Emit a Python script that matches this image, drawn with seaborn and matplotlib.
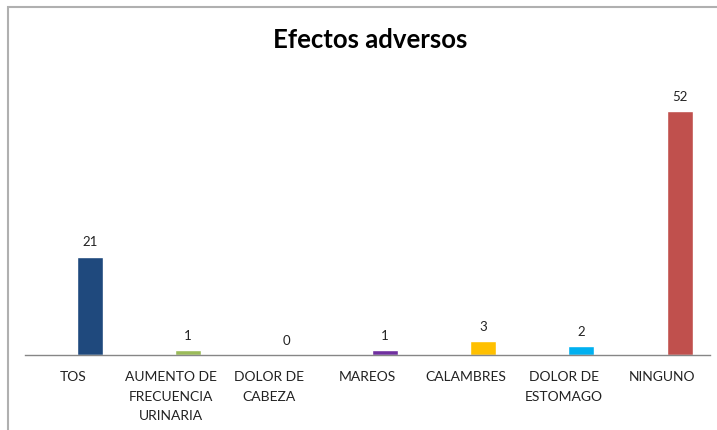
import matplotlib
matplotlib.use("Agg")
import matplotlib.pyplot as plt
import seaborn as sns
import pandas as pd
from matplotlib.patches import Rectangle

categories = ["TOS", "AUMENTO DE\nFRECUENCIA\nURINARIA", "DOLOR DE\nCABEZA", "MAREOS",
              "CALAMBRES", "DOLOR DE\nESTOMAGO", "NINGUNO"]
values = [21, 1, 0, 1, 3, 2, 52]
colors = ["#1F497D", "#9BBB59", "#4BACC6", "#7030A0", "#FFC000", "#00B0F0", "#C0504D"]
title = "Efectos adversos"

sns.set_theme(style="white")
plt.rcParams["font.family"] = ["Lato", "DejaVu Sans"]

df = pd.DataFrame({"cat": categories, "val": values})

fig = plt.figure(figsize=(7.17, 4.31), dpi=100)
ax = fig.add_axes([25 / 717, 75 / 431, 685 / 717, (356 - 74.6) / 431])

sns.barplot(data=df, x="cat", y="val", hue="cat", palette=colors, legend=False,
            width=0.265, ax=ax, saturation=1)

ax.set_ylim(0, 60)
ax.set_xlim(-0.66, 6.31)
ax.set_xlabel("")
ax.set_ylabel("")
ax.set_yticks([])
ax.set_xticks([i - 0.175 for i in range(len(categories))])
ax.set_xticklabels(categories, fontsize=10, linespacing=1.75, color="#222222")
ax.tick_params(axis="x", length=0, pad=11)
for s in ["top", "right", "left"]:
    ax.spines[s].set_visible(False)
ax.spines["bottom"].set_color("#868686")
ax.spines["bottom"].set_linewidth(1.0)

for i, v in enumerate(values):
    ax.annotate(str(v), (i, v), xytext=(0, 6.5), textcoords="offset points",
                ha="center", va="bottom", fontsize=9.5, color="#222222")

fig.text(370 / 717, 1 - 40 / 431, title, ha="center", va="center",
         fontsize=18.5, fontweight="bold", color="black")

fig.patches.append(Rectangle((8 / 717, -0.1), 1.2, 1 - 8 / 431 + 0.1,
                             transform=fig.transFigure, fill=False,
                             edgecolor="#B0B0B0", linewidth=1.5))

fig.savefig("out.png", dpi=100)
